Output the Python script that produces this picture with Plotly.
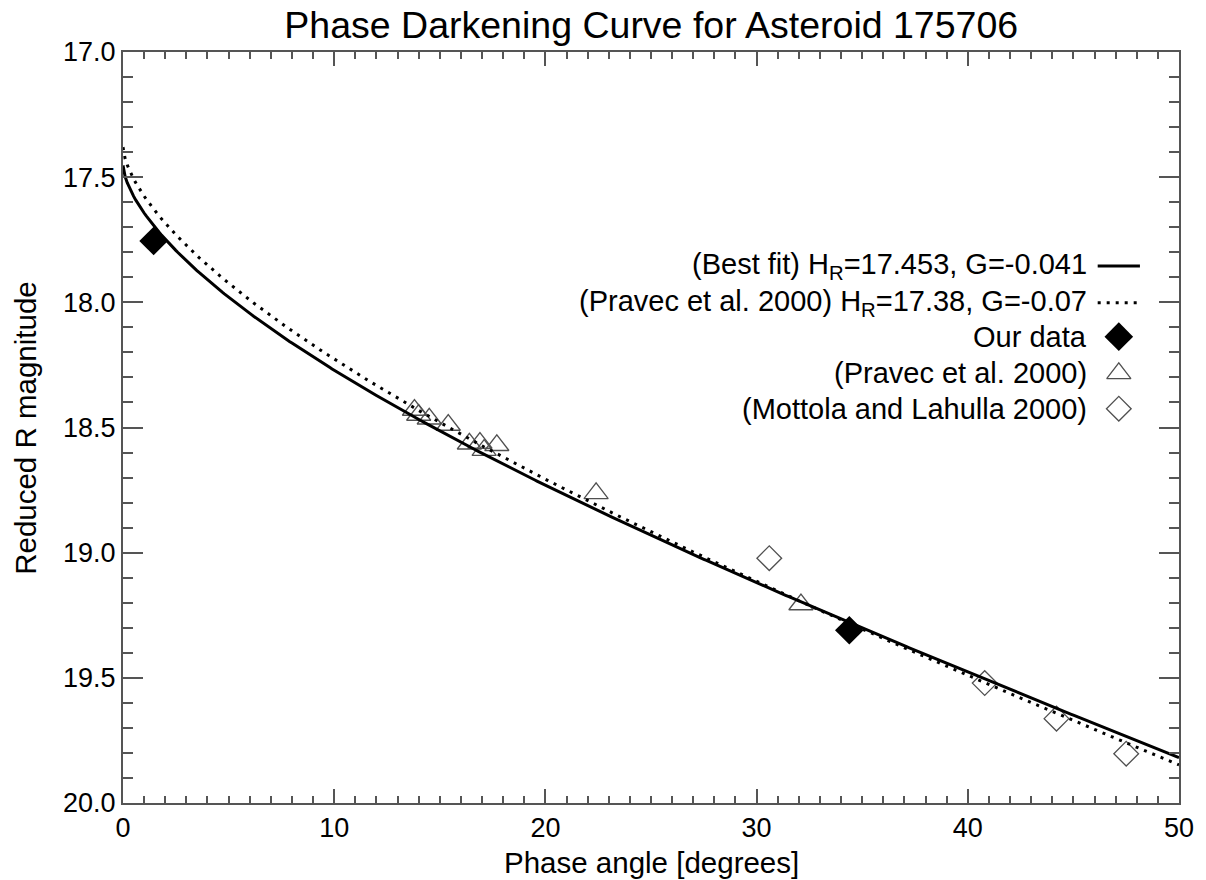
import numpy as np
import plotly.graph_objects as go

# ---- data ----
our_phase = [1.45, 34.39]
our_mag = [17.755, 19.31]

pravec_phase = [13.8, 14.0, 14.5, 15.4, 16.4, 16.9, 17.1, 17.7, 22.4, 32.1]
pravec_mag = [18.43, 18.45, 18.465, 18.49, 18.565, 18.562, 18.59, 18.571, 18.763, 19.207]

mottola_phase = [30.6, 40.8, 44.2, 47.5]
mottola_mag = [19.022, 19.521, 19.663, 19.803]

# H-G model parameters shown in the legend
best_H, best_G = 17.453, -0.041
pravec_H, pravec_G = 17.38, -0.07

x_ticks = [0, 10, 20, 30, 40, 50]
y_ticks = [17.0, 17.5, 18.0, 18.5, 19.0, 19.5, 20.0]
y_ticklabels = ["17.0", "17.5", "18.0", "18.5", "19.0", "19.5", "20.0"]

legend_labels = [
    "(Best fit) H<sub>R</sub>=17.453, G=-0.041",
    "(Pravec et al. 2000) H<sub>R</sub>=17.38, G=-0.07",
    "Our data",
    "(Pravec et al. 2000)",
    "(Mottola and Lahulla 2000)",
]


def hg_mag(alpha_deg, H, G):
    a = np.radians(alpha_deg)
    t = np.tan(a / 2.0)
    phi1 = np.exp(-3.33 * t ** 0.63)
    phi2 = np.exp(-1.87 * t ** 1.22)
    return H - 2.5 * np.log10((1 - G) * phi1 + G * phi2)


alpha = np.linspace(0, 50, 501)

FONT = "Liberation Sans, Arial, Helvetica, sans-serif"
AXC = "#555555"
OPEN_C = "#505050"

fig = go.Figure()

fig.add_trace(go.Scatter(x=pravec_phase, y=pravec_mag, mode="markers",
                         marker=dict(symbol="triangle-up-open", size=21, color=OPEN_C,
                                     line=dict(width=1.3, color=OPEN_C)),
                         showlegend=False))
fig.add_trace(go.Scatter(x=mottola_phase, y=mottola_mag, mode="markers",
                         marker=dict(symbol="diamond-open", size=19, color=OPEN_C,
                                     line=dict(width=1.3, color=OPEN_C)),
                         showlegend=False))
fig.add_trace(go.Scatter(x=our_phase, y=our_mag, mode="markers",
                         marker=dict(symbol="diamond", size=22, color="black"),
                         showlegend=False))
fig.add_trace(go.Scatter(x=alpha, y=hg_mag(alpha, pravec_H, pravec_G), mode="lines",
                         line=dict(color="black", width=3, dash="3px,6px"),
                         showlegend=False))
fig.add_trace(go.Scatter(x=alpha, y=hg_mag(alpha, best_H, best_G), mode="lines",
                         line=dict(color="black", width=3), showlegend=False))

# ---- custom legend (symbols on the right of the text) ----
leg_y = [0.715, 0.666, 0.621, 0.572, 0.525]
key_x0, key_x1, key_xc = 0.923, 0.963, 0.943
text_x = 0.915

fig.add_trace(go.Scatter(x=[key_x0, key_x1], y=[leg_y[0]] * 2, xaxis="x2", yaxis="y2",
                         mode="lines", line=dict(color="black", width=3), showlegend=False,
                         hoverinfo="skip"))
fig.add_trace(go.Scatter(x=[key_x0, key_x1], y=[leg_y[1]] * 2, xaxis="x2", yaxis="y2",
                         mode="lines", line=dict(color="black", width=3, dash="3px,6px"),
                         showlegend=False, hoverinfo="skip"))
fig.add_trace(go.Scatter(x=[key_xc], y=[leg_y[2]], xaxis="x2", yaxis="y2", mode="markers",
                         marker=dict(symbol="diamond", size=22, color="black"),
                         showlegend=False, hoverinfo="skip"))
fig.add_trace(go.Scatter(x=[key_xc], y=[leg_y[3]], xaxis="x2", yaxis="y2", mode="markers",
                         marker=dict(symbol="triangle-up-open", size=21, color=OPEN_C,
                                     line=dict(width=1.3, color=OPEN_C)),
                         showlegend=False, hoverinfo="skip"))
fig.add_trace(go.Scatter(x=[key_xc], y=[leg_y[4]], xaxis="x2", yaxis="y2", mode="markers",
                         marker=dict(symbol="diamond-open", size=19, color=OPEN_C,
                                     line=dict(width=1.3, color=OPEN_C)),
                         showlegend=False, hoverinfo="skip"))

annotations = []
for lab, yy in zip(legend_labels, leg_y):
    annotations.append(dict(x=text_x, y=yy, xref="paper", yref="paper", text=lab,
                            showarrow=False, xanchor="right", yanchor="middle",
                            font=dict(family=FONT, size=29, color="black")))

annotations.append(dict(x=0.5, y=-0.079, xref="paper", yref="paper",
                        text="Phase angle [degrees]", showarrow=False,
                        xanchor="center", yanchor="middle",
                        font=dict(family=FONT, size=29.5, color="black")))
annotations.append(dict(x=-0.0925, y=0.5, xref="paper", yref="paper",
                        text="Reduced R magnitude", showarrow=False, textangle=-90,
                        xanchor="center", yanchor="middle",
                        font=dict(family=FONT, size=29.5, color="black")))

fig.update_layout(
    width=1206, height=880,
    margin=dict(l=123, r=27, t=52, b=77),
    paper_bgcolor="white", plot_bgcolor="white",
    title=dict(text="Phase Darkening Curve for Asteroid 175706", x=0.540, xanchor="center",
               y=0.972, yanchor="middle",
               font=dict(family=FONT, size=37.5, color="black")),
    annotations=annotations,
    showlegend=False,
    xaxis=dict(range=[0, 50], tickvals=x_ticks, ticktext=[str(v) for v in x_ticks],
               ticks="inside", ticklen=14, tickwidth=2, tickcolor=AXC,
               showline=True, linecolor=AXC, linewidth=2, mirror="ticks",
               showgrid=False, zeroline=False,
               tickfont=dict(family=FONT, size=27, color="black"),
               minor=dict(dtick=1, ticks="inside", ticklen=7, tickwidth=1.5,
                          tickcolor=AXC, showgrid=False)),
    yaxis=dict(range=[20.0, 17.0], tickvals=y_ticks, ticktext=y_ticklabels,
               ticks="inside", ticklen=20, tickwidth=2, tickcolor=AXC,
               showline=True, linecolor=AXC, linewidth=2, mirror="ticks",
               showgrid=False, zeroline=False,
               tickfont=dict(family=FONT, size=27, color="black"),
               minor=dict(dtick=0.1, tick0=17.0, ticks="inside", ticklen=10, tickwidth=1.5,
                          tickcolor=AXC, showgrid=False)),
    xaxis2=dict(range=[0, 1], overlaying="x", visible=False, fixedrange=True),
    yaxis2=dict(range=[0, 1], overlaying="y", visible=False, fixedrange=True),
)

fig.write_html("out.html")
